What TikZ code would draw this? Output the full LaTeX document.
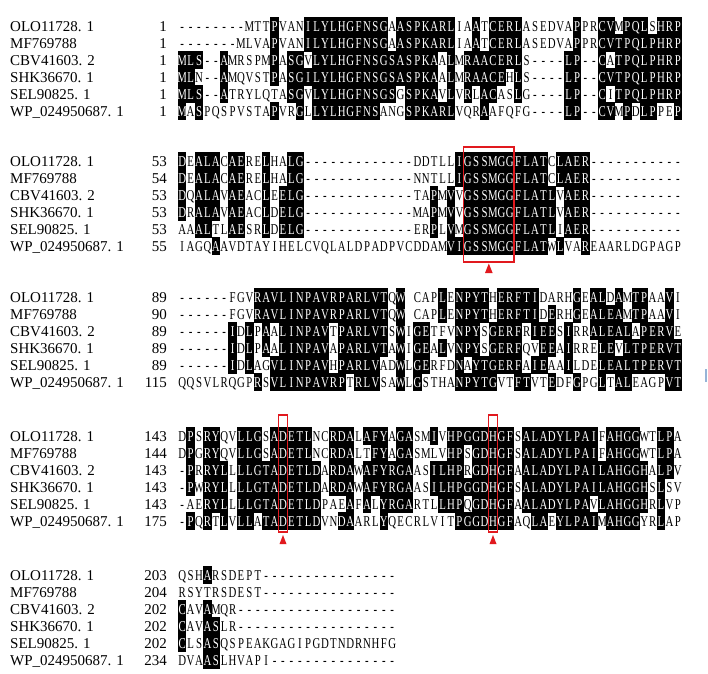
\documentclass[tikz,border=0pt]{standalone}
\usepackage{fontspec}
\setmainfont{Liberation Serif}
\newfontfamily\seqfont[FakeStretch=0.72]{Liberation Serif}
\definecolor{markred}{RGB}{225,25,30}
\definecolor{edgeblue}{RGB}{150,180,215}
\tikzset{
  seqchar/.style={inner sep=0pt, anchor=base, font=\seqfont\fontsize{15}{15}\selectfont},
  seqname/.style={inner sep=0pt, anchor=base west, font=\fontsize{15}{15}\selectfont},
  seqnum/.style={inner sep=0pt, anchor=base east, font=\fontsize{15}{15}\selectfont},
  idcell/.style={fill=black},
  sitebox/.style={draw=markred, line width=1.2pt},
  sitemark/.style={fill=markred},
}
\ExplSyntaxOn
\int_new:N \l_aln_m_int
\int_new:N \l_aln_tot_int
\int_step_inline:nn {6} { \int_new:c { l_aln_n_#1_int } \tl_new:c { l_aln_c_#1_tl } }
\fp_new:N \l_aln_x_fp
\fp_new:N \l_aln_y_fp
\tl_new:N \l_aln_a_tl
\tl_new:N \l_aln_b_tl
\tl_new:N \l_aln_col_tl
\tl_const:Nn \c_aln_gap_tl {-}
\tl_const:Nn \c_aln_blank_tl {.}
\NewDocumentCommand \AlnRow { m m m }
  { \tl_gclear_new:c { g_aln_#1_#2_tl } \tl_gset:cn { g_aln_#1_#2_tl } {#3} }
\cs_new_protected:Npn \aln_column:nnn #1#2#3
  {
    \int_step_inline:nn {6}
      { \tl_set:cx { l_aln_c_##1_tl } { \tl_item:cn { g_aln_#1_##1_tl } {#2} } }
    \int_zero:N \l_aln_m_int
    \int_step_inline:nn {6}
      {
        \int_zero:c { l_aln_n_##1_int }
        \tl_set_eq:Nc \l_aln_a_tl { l_aln_c_##1_tl }
        \bool_lazy_or:nnF
          { \tl_if_eq_p:NN \l_aln_a_tl \c_aln_gap_tl }
          { \tl_if_eq_p:NN \l_aln_a_tl \c_aln_blank_tl }
          {
            \int_step_inline:nn {6}
              {
                \tl_set_eq:Nc \l_aln_b_tl { l_aln_c_####1_tl }
                \tl_if_eq:NNT \l_aln_a_tl \l_aln_b_tl
                  { \int_incr:c { l_aln_n_##1_int } }
              }
          }
        \int_set:Nn \l_aln_m_int
          { \int_max:nn { \l_aln_m_int } { \int_use:c { l_aln_n_##1_int } } }
      }
    \int_zero:N \l_aln_tot_int
    \int_step_inline:nn {6}
      {
        \int_compare:nNnT { \int_use:c { l_aln_n_##1_int } } = { \l_aln_m_int }
          { \int_incr:N \l_aln_tot_int }
      }
    \int_step_inline:nn {6}
      {
        \fp_set:Nn \l_aln_x_fp { 178 + (#2 - 0.5) * 8.4 }
        \fp_set:Nn \l_aln_y_fp { #3 + (##1 - 1) * 17 }
        \tl_set:Nn \l_aln_col_tl {black}
        \bool_lazy_all:nT
          {
            { \int_compare_p:nNn { \l_aln_m_int } > {2} }
            { \int_compare_p:nNn { \l_aln_tot_int } = { \l_aln_m_int } }
            { \int_compare_p:nNn { \int_use:c { l_aln_n_##1_int } } = { \l_aln_m_int } }
          }
          {
            \fill[idcell]~(\fp_eval:n { \l_aln_x_fp - 4.25 },\fp_eval:n { \l_aln_y_fp - 8.55 })~
              rectangle~(\fp_eval:n { \l_aln_x_fp + 4.25 },\fp_eval:n { \l_aln_y_fp + 8.55 });
            \tl_set:Nn \l_aln_col_tl {white}
          }
        \tl_set_eq:Nc \l_aln_a_tl { l_aln_c_##1_tl }
        \tl_if_eq:NNF \l_aln_a_tl \c_aln_blank_tl
          {
            \node[seqchar,text=\l_aln_col_tl]~at~(\fp_use:N \l_aln_x_fp,\fp_eval:n { \l_aln_y_fp + 5 })~{\l_aln_a_tl};
          }
      }
  }
\cs_new_protected:Npn \aln_block:nnn #1#2#3
  { \int_step_inline:nn {#2} { \aln_column:nnn {#1} {##1} {#3} } }
\NewDocumentCommand \AlnBlock { m m m } { \aln_block:nnn {#1} {#2} {#3} }
\ExplSyntaxOff
\AlnRow{1}{1}{--------MTTPVANILYLHGFNSGAASPKARLIAATCERLASEDVAPPRCVMPQLSHRP}
\AlnRow{1}{2}{-------MLVAPVANILYLHGFNSGAASPKARLIAATCERLASEDVAPPRCVTPQLPHRP}
\AlnRow{1}{3}{MLS--AMRSPMPASGVLYLHGFNSGSASPKAALMRAACERLS----LP--CATPQLPHRP}
\AlnRow{1}{4}{MLN--AMQVSTPASGILYLHGFNSGSASPKAALMRAACEHLS----LP--CVTPQLPHRP}
\AlnRow{1}{5}{MLS--ATRYLQTASGVLYLHGFNSGSGSPKAVLVRLACASLG----LP--CITPQLPHRP}
\AlnRow{1}{6}{MASPQSPVSTAPVRGLLYLHGFNSANGSPKARLVQRAAFQFG----LP--CVMPDLPPEP}
\AlnRow{2}{1}{DEALACAERELHALG-------------DDTLLIGSSMGGFLATCLAER-----------}
\AlnRow{2}{2}{DEALACAERELHALG-------------NNTLLIGSSMGGFLATCLAER-----------}
\AlnRow{2}{3}{DQALAVAEACLEELG-------------TAPMVVGSSMGGFLATLVAER-----------}
\AlnRow{2}{4}{DRALAVAEACLDELG-------------MAPMVVGSSMGGFLATLVAER-----------}
\AlnRow{2}{5}{AAALTLAESRLDELG-------------ERPLVMGSSMGGFLATLIAER-----------}
\AlnRow{2}{6}{IAGQAAVDTAYIHELCVQLALDPADPVCDDAMVIGSSMGGFLATWLVAREAARLDGPAGP}
\AlnRow{3}{1}{------FGVRAVLINPAVRPARLVTQW.CAPLENPYTHERFTIDARHGEALDAMTPAAVI}
\AlnRow{3}{2}{------FGVRAVLINPAVRPARLVTQW.CAPLENPYTHERFTIDERHGEALEAMTPAAVI}
\AlnRow{3}{3}{------IDLPAALINPAVTPARLVTSWIGETFVNPYSGERFRIEESIRRALEALAPERVE}
\AlnRow{3}{4}{------IDLPAALINPAVAPARLVTAWIGEALVNPYSGERFQVEEAIRRELEVLTPERVT}
\AlnRow{3}{5}{------IDLAGVLINPAVHPARLVADWLGERFDNAYTGERFAIEAAILDELEALTPERVT}
\AlnRow{3}{6}{QQSVLRQGPRSVLINPAVRPTRLVSAWLGSTHANPYTGVTFTVTEDFGPGLTALEAGPVT}
\AlnRow{4}{1}{DPSRYQVLLGSADETLNCRDALAFYAGASMIVHPGGDHGFSALADYLPAIFAHGGWTLPA}
\AlnRow{4}{2}{DPGRYQVLLGSADETLNCRDALTFYAGASMLVHPSGDHGFSALADYLPAIFAHGGWTLPA}
\AlnRow{4}{3}{-PRRYLLLLGTADETLDARDAWAFYRGAASILHPRGDHGFAALADYLPAILAHGGHALPV}
\AlnRow{4}{4}{-PWRYLLLLGTADETLDARDAWAFYRGAASILHPGGDHGFSALADYLPAILAHGGHSLSV}
\AlnRow{4}{5}{-AERYLLLLGTADETLDPAEAFALYRGARTLLHPQGDHGFAALADYLPAVLAHGGHRLVP}
\AlnRow{4}{6}{-PQRTLVLLATADETLDVNDAARLYQECRLVITPGGDHGFAQLAEYLPAIMAHGGYRLAP}
\AlnRow{5}{1}{QSHARSDEPT----------------}
\AlnRow{5}{2}{RSYTRSDEST----------------}
\AlnRow{5}{3}{CAVAMQR-------------------}
\AlnRow{5}{4}{CAVASLR-------------------}
\AlnRow{5}{5}{CLSASQSPEAKGAGIPGDTNDRNHFG}
\AlnRow{5}{6}{DVAASLHVAPI---------------}
\begin{document}
\begin{tikzpicture}[x=1pt,y=-1pt]
\useasboundingbox (0,0) rectangle (708,673);
\fill[white] (0,0) rectangle (708,673);
% sequences
\AlnBlock{1}{60}{26}
\AlnBlock{2}{60}{161}
\AlnBlock{3}{60}{297}
\AlnBlock{4}{60}{436}
\AlnBlock{5}{26}{575}
% names and numbers
\foreach \yy/\b in {26/1,161/2,297/3,436/4,575/5}{
  \node[seqname] (n\b a) at (10,\yy+5) {OLO11728. 1};
  \node[seqname] (n\b b) at (10,\yy+22) {MF769788};
  \node[seqname] (n\b c) at (10,\yy+39) {CBV41603. 2};
  \node[seqname] (n\b d) at (10,\yy+56) {SHK36670. 1};
  \node[seqname] (n\b e) at (10,\yy+73) {SEL90825. 1};
  \node[seqname] (n\b f) at (10,\yy+90) {WP\_024950687. 1};
}
\foreach \yy/\b/\na/\nb/\nc/\nd/\ne/\nf in {26/1/1/1/1/1/1/1,161/2/53/54/53/53/53/55,297/3/89/90/89/89/89/115,436/4/143/144/143/143/143/175,575/5/203/204/202/202/202/234}{
  \node[seqnum] (p\b a) at (167,\yy+5) {\na};
  \node[seqnum] (p\b b) at (167,\yy+22) {\nb};
  \node[seqnum] (p\b c) at (167,\yy+39) {\nc};
  \node[seqnum] (p\b d) at (167,\yy+56) {\nd};
  \node[seqnum] (p\b e) at (167,\yy+73) {\ne};
  \node[seqnum] (p\b f) at (167,\yy+90) {\nf};
}
% conserved site boxes and markers
\draw[sitebox] (463.6,147) rectangle (514,262);
\fill[sitemark] (488.8,263.5) -- (492.6,273) -- (485,273) -- cycle;
\draw[sitebox] (278.8,415) rectangle (287.2,532);
\fill[sitemark] (283,535) -- (286.5,544) -- (279.5,544) -- cycle;
\draw[sitebox] (488.8,415) rectangle (497.2,532);
\fill[sitemark] (493,535) -- (496.5,544) -- (489.5,544) -- cycle;
% small mark at the right edge
\draw[edgeblue, line width=1.2pt] (706,369) -- (706,382);
\end{tikzpicture}
\end{document}
